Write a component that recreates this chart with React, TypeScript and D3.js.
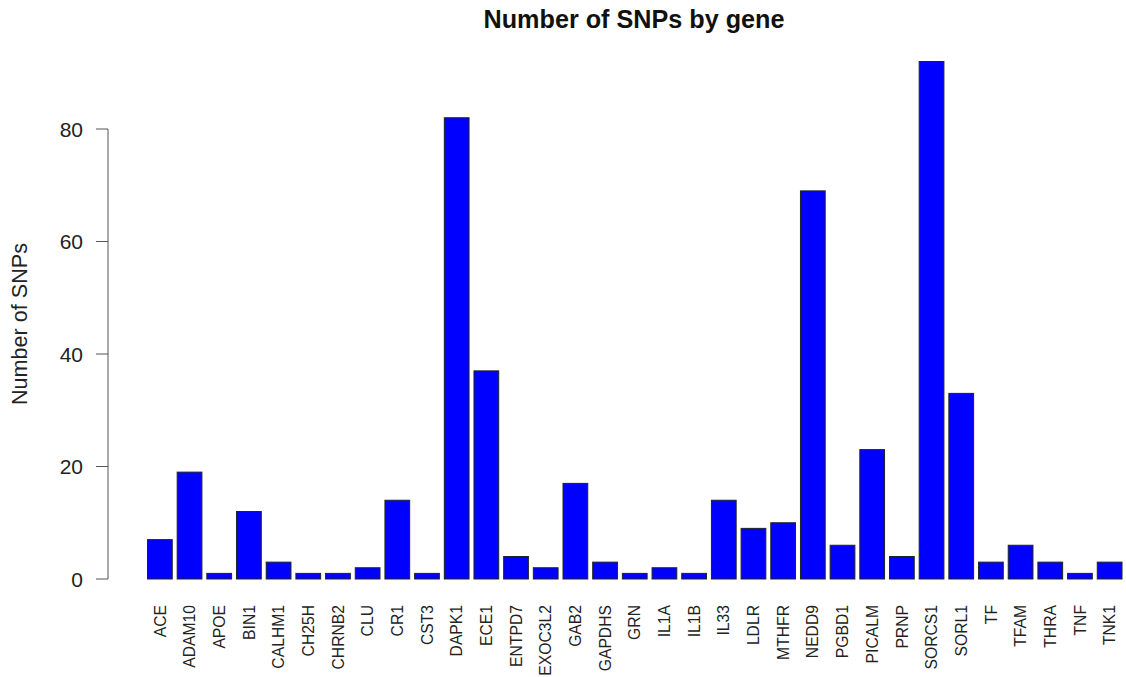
import React, { useEffect, useRef } from "react";
import * as d3 from "d3";

const genes: string[] = [
  "ACE", "ADAM10", "APOE", "BIN1", "CALHM1", "CH25H", "CHRNB2", "CLU", "CR1", "CST3",
  "DAPK1", "ECE1", "ENTPD7", "EXOC3L2", "GAB2", "GAPDHS", "GRN", "IL1A", "IL1B", "IL33",
  "LDLR", "MTHFR", "NEDD9", "PGBD1", "PICALM", "PRNP", "SORCS1", "SORL1", "TF", "TFAM",
  "THRA", "TNF", "TNK1",
];
const snpCounts: number[] = [
  7, 19, 1, 12, 3, 1, 1, 2, 14, 1,
  82, 37, 4, 2, 17, 3, 1, 2, 1, 14,
  9, 10, 69, 6, 23, 4, 92, 33, 3, 6,
  3, 1, 3,
];
const yTicks: number[] = [0, 20, 40, 60, 80];

const W = 1126;
const H = 677;
const FONT = "'Liberation Sans', Arial, Helvetica, sans-serif";

export default function App() {
  const ref = useRef<SVGSVGElement | null>(null);

  useEffect(() => {
    const svg = d3.select(ref.current);
    svg.selectAll("*").remove();

    const x = d3.scaleBand<string>().domain(genes).range([147.5, 1122]).paddingInner(1 / 6).paddingOuter(0);
    const y = d3.scaleLinear().domain([0, 80]).range([579, 129]);

    svg.append("rect").attr("width", W).attr("height", H).attr("fill", "#fff");

    // bars
    svg.append("g")
      .selectAll("rect")
      .data(genes.map((g, i) => ({ g, v: snpCounts[i] })))
      .join("rect")
      .attr("x", (d) => x(d.g)!)
      .attr("width", x.bandwidth())
      .attr("y", (d) => y(d.v))
      .attr("height", (d) => y(0) - y(d.v))
      .attr("fill", "#0000ff")
      .attr("stroke", "#222")
      .attr("stroke-width", 1);

    // y axis
    const ax = svg.append("g").attr("transform", "translate(108,0)");
    ax.append("line")
      .attr("x1", 0).attr("x2", 0)
      .attr("y1", y(0)).attr("y2", y(80))
      .attr("stroke", "#555").attr("stroke-width", 1);
    const t = ax.selectAll("g.tick").data(yTicks).join("g").attr("class", "tick")
      .attr("transform", (d) => `translate(0,${y(d)})`);
    t.append("line").attr("x1", -12).attr("x2", 0).attr("stroke", "#555").attr("stroke-width", 1);
    t.append("text")
      .attr("x", -25)
      .attr("dy", "0.36em")
      .attr("text-anchor", "end")
      .attr("font-family", FONT)
      .attr("font-size", 21)
      .attr("fill", "#222")
      .text((d) => String(d));

    // x labels
    svg.append("g")
      .selectAll("text")
      .data(genes)
      .join("text")
      .attr("transform", (d) => `translate(${x(d)! + x.bandwidth() / 2},605) rotate(-90)`)
      .attr("text-anchor", "end")
      .attr("dy", "0.36em")
      .attr("font-family", FONT)
      .attr("font-size", 15.7)
      .attr("fill", "#222")
      .text((d) => d);

    // title
    svg.append("text")
      .attr("x", 634)
      .attr("y", 28)
      .attr("text-anchor", "middle")
      .attr("font-family", FONT)
      .attr("font-weight", "bold")
      .attr("font-size", 25.2)
      .attr("fill", "#111")
      .text("Number of SNPs by gene");

    // y label
    svg.append("text")
      .attr("transform", "translate(27,324) rotate(-90)")
      .attr("text-anchor", "middle")
      .attr("font-family", FONT)
      .attr("font-size", 21.6)
      .attr("fill", "#222")
      .text("Number of SNPs");
  }, []);

  return (
    <svg
      ref={ref}
      width={W}
      height={H}
      style={{ position: "absolute", left: 0, top: 0, display: "block" }}
    />
  );
}
